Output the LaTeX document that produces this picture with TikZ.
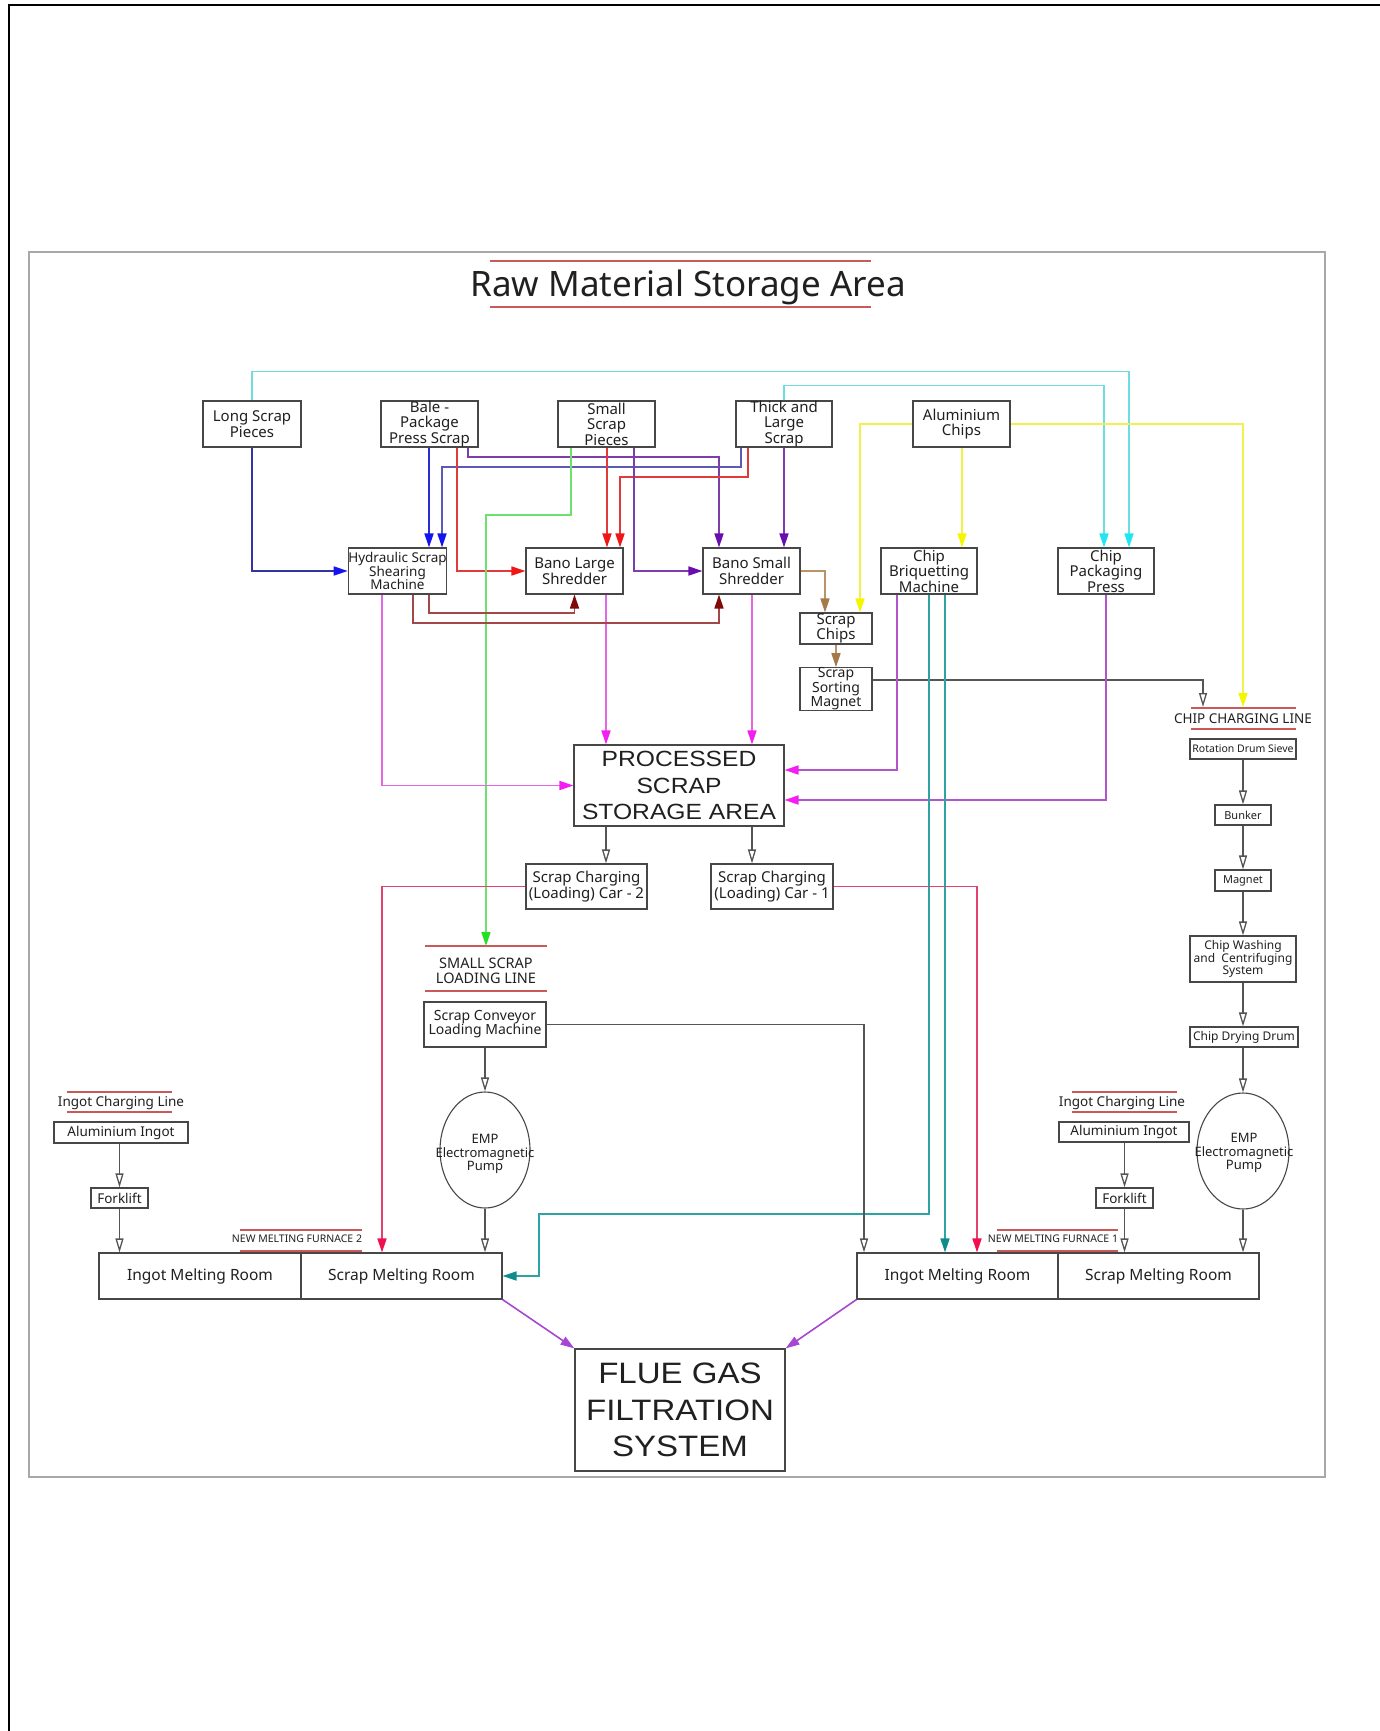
\documentclass[tikz,border=0pt]{standalone}
\usepackage{fontspec}
\setmainfont{Noto Sans}
\newfontfamily\pssf[FakeStretch=1.12]{Liberation Sans}
\usetikzlibrary{arrows.meta,shapes.geometric}
\definecolor{boxc}{HTML}{474747}
\definecolor{txt}{HTML}{202020}
\definecolor{frameg}{HTML}{A8A8A8}
\definecolor{hdrred}{HTML}{C85A5A}
\definecolor{gline}{HTML}{555555}
\definecolor{cyanL}{HTML}{6FDDE0}
\definecolor{cyanT}{HTML}{1EE6F2}
\definecolor{navyL}{HTML}{3434A0}
\definecolor{blueL}{HTML}{2B2BD6}
\definecolor{blueT}{HTML}{1414EE}
\definecolor{slateL}{HTML}{5B5BB5}
\definecolor{redL}{HTML}{E03A3A}
\definecolor{redT}{HTML}{F01616}
\definecolor{purpL}{HTML}{7D3DAA}
\definecolor{purpT}{HTML}{6A0DAD}
\definecolor{greenL}{HTML}{6EE06E}
\definecolor{greenT}{HTML}{22E022}
\definecolor{yelL}{HTML}{F2F04A}
\definecolor{yelT}{HTML}{F5F500}
\definecolor{brownL}{HTML}{BA9466}
\definecolor{brownT}{HTML}{A57A4A}
\definecolor{magL}{HTML}{E266E6}
\definecolor{magT}{HTML}{F21EF2}
\definecolor{violL}{HTML}{B454CC}
\definecolor{marL}{HTML}{A34848}
\definecolor{marT}{HTML}{7E0A0A}
\definecolor{tealL}{HTML}{2FA3A3}
\definecolor{tealT}{HTML}{0E8C8C}
\definecolor{crimL}{HTML}{E2426E}
\definecolor{crimT}{HTML}{F0104E}
\definecolor{flueL}{HTML}{A646D2}
\newcommand\fsz[2]{\fontsize{#1}{#2}\selectfont}
\begin{document}
\begin{tikzpicture}[x=1pt,y=-1pt,
  box/.style={draw=boxc,line width=1.1pt,fill=white,inner sep=0pt,align=center,text=txt,font=\fsz{15}{15.5}},
  bx/.style 2 args={box,minimum width=#1pt,minimum height=#2pt},
  ell/.style 2 args={draw=boxc,line width=1.1pt,fill=white,ellipse,inner sep=0pt,minimum width=#1pt,minimum height=#2pt},
  hdrtxt/.style={text=txt,inner sep=0pt,align=center},
  hdr/.style={draw=hdrred,line width=1.6pt},
  ln/.style 2 args={draw=#1,line width=1.6pt,-{Triangle[length=14pt,width=9pt,color=#2]}},
  op/.style={draw=gline,line width=1.3pt,-{Triangle[open,length=14pt,width=8pt]}},
]
\useasboundingbox (0,0) rectangle (1380,1731);
\draw[black,line width=2pt] (9,1731) -- (9,5) -- (1380,5);
\draw[frameg,line width=2pt] (29,252) rectangle (1325,1477);

% title
\node[hdrtxt,anchor=base,font=\fsz{35}{38}] (title) at (688,296) {Raw Material Storage Area};
\draw[hdr] (490,261) -- (871,261);
\draw[hdr] (490,307) -- (871,307);

% top row
\node[bx={98}{46}] (lsp) at (252,424) {Long Scrap\\Pieces};
\node[bx={97}{46}] (bale) at (429.5,424) {Bale -\\Package\\Press Scrap};
\node[bx={97}{46}] (ssp) at (606.5,424) {Small\\Scrap\\Pieces};
\node[bx={96}{46}] (tls) at (784,424) {Thick and\\Large\\Scrap};
\node[bx={97}{46}] (ac) at (961.5,424) {Aluminium\\Chips};

% second row
\node[bx={97}{46},font=\fsz{13.5}{13.5}] (hyd) at (397.5,571) {Hydraulic Scrap\\Shearing\\Machine};
\node[bx={97}{46}] (bls) at (574.5,571) {Bano Large\\Shredder};
\node[bx={97}{46}] (bss) at (751.5,571) {Bano Small\\Shredder};
\node[bx={96}{46}] (cbm) at (929,571) {Chip\\Briquetting\\Machine};
\node[bx={96}{46}] (cpp) at (1106,571) {Chip\\Packaging\\Press};
\node[bx={72}{31},font=\fsz{15}{15.5}] (sch) at (836,628.5) {Scrap\\Chips};
\node[bx={72}{40},font=\fsz{14}{14.5}] (ssm) at (836,689) {Scrap\\Sorting\\Magnet};

% processed scrap
\node[bx={210}{81},font=\pssf\fsz{22}{26.7}] (psa) at (679,785.5) {PROCESSED\\SCRAP\\STORAGE AREA};
\node[bx={121}{45}] (car2) at (586.5,886.5) {Scrap Charging\\(Loading) Car - 2};
\node[bx={122}{45}] (car1) at (772,886.5) {Scrap Charging\\(Loading) Car - 1};

% chip charging line
\node[hdrtxt,anchor=base,font=\fsz{13.5}{15}] (cclabel) at (1243,723) {CHIP CHARGING LINE};
\draw[hdr] (1191,708) -- (1296,708);
\draw[hdr] (1191,729) -- (1296,729);
\coordinate (cctop) at (1243,707);
\node[bx={106}{20},font=\fsz{10.5}{11}] (rds) at (1243,749) {Rotation Drum Sieve};
\node[bx={56}{20},font=\fsz{11}{11}] (bunk) at (1243,815) {Bunker};
\node[bx={56}{21},font=\fsz{11}{11}] (mag) at (1243,880.5) {Magnet};
\node[bx={106}{46},font=\fsz{12}{12.5}] (wash) at (1243,959) {Chip Washing\\and\ \ Centrifuging\\System};
\node[bx={108}{20},font=\fsz{12}{12}] (dry) at (1244,1037) {Chip Drying Drum};
\node[ell={92}{116}] (emp2) at (1243,1151) {};
\node[hdrtxt,font=\fsz{13}{13.3}] (emp2t) at (1244,1153) {EMP\\Electromagnetic\\Pump};

% small scrap loading line
\node[hdrtxt,font=\fsz{14.5}{15}] (sslabel) at (486,971) {SMALL SCRAP\\LOADING LINE};
\draw[hdr] (425,946) -- (547,946);
\draw[hdr] (425,991) -- (547,991);
\coordinate (sstop) at (486,946);
\node[bx={122}{45},font=\fsz{14}{14}] (conv) at (485,1024.5) {Scrap Conveyor\\Loading Machine};
\node[ell={90}{116}] (emp1) at (485,1150) {};
\node[hdrtxt,font=\fsz{13}{13.3}] (emp1t) at (485,1154) {EMP\\Electromagnetic\\Pump};

% left furnace
\node[hdrtxt,anchor=base,font=\fsz{13.5}{14}] (icl1) at (121,1106) {Ingot Charging Line};
\draw[hdr] (67,1092) -- (172,1092);
\draw[hdr] (67,1112) -- (172,1112);
\node[bx={134}{21},font=\fsz{13.5}{14}] (ai1) at (121,1132.5) {Aluminium Ingot};
\node[bx={57}{20},font=\fsz{13.5}{14}] (fl1) at (119.5,1198) {Forklift};
\node[bx={202}{46},font=\fsz{15.5}{16}] (im2) at (200,1276) {Ingot Melting Room};
\node[bx={201}{46},font=\fsz{15.5}{16}] (sm2) at (401.5,1276) {Scrap Melting Room};
\node[hdrtxt,anchor=base,font=\fsz{10.5}{11}] (nmf2) at (297,1242) {NEW MELTING FURNACE 2};
\draw[hdr] (240,1230) -- (362,1230);
\draw[hdr] (240,1251) -- (362,1251);

% right furnace
\node[hdrtxt,anchor=base,font=\fsz{13.5}{14}] (icl2) at (1122,1106) {Ingot Charging Line};
\draw[hdr] (1072,1092) -- (1177,1092);
\draw[hdr] (1072,1112) -- (1177,1112);
\node[bx={130}{20},font=\fsz{13.5}{14}] (ai2) at (1124,1132) {Aluminium Ingot};
\node[bx={57}{20},font=\fsz{13.5}{14}] (fl2) at (1124.5,1198) {Forklift};
\node[bx={201}{46},font=\fsz{15.5}{16}] (im1) at (957.5,1276) {Ingot Melting Room};
\node[bx={201}{46},font=\fsz{15.5}{16}] (sm1) at (1158.5,1276) {Scrap Melting Room};
\node[hdrtxt,anchor=base,font=\fsz{10.5}{11}] (nmf1) at (1053,1242) {NEW MELTING FURNACE 1};
\draw[hdr] (997,1230) -- (1118,1230);
\draw[hdr] (997,1251) -- (1118,1251);

% flue gas
\node[bx={210}{122},font=\pssf\fsz{29.5}{36.7}] (flue) at (680,1410) {FLUE GAS\\FILTRATION\\SYSTEM};

% ---- connectors ----
\draw[ln={cyanL}{cyanT}] (lsp.north) -- ++(0,-29) -| (cpp.north -| 1129,0);
\draw[ln={cyanL}{cyanT}] (tls.north) -- ++(0,-15) -| (cpp.north -| 1104,0);
\draw[ln={navyL}{blueT}] (lsp.south) |- (hyd.west);
\draw[ln={blueL}{blueT}] (bale.south -| 429,0) -- (hyd.north -| 429,0);
\draw[ln={slateL}{blueT}] (tls.south -| 741,0) |- (442,467) -- (hyd.north -| 442,0);
\draw[ln={redL}{redT}] (bale.south -| 457,0) |- (bls.west);
\draw[ln={purpL}{purpT}] (bale.south -| 468,0) |- (719,457) -- (bss.north -| 719,0);
\draw[ln={redL}{redT}] (ssp.south -| 607,0) -- (bls.north -| 607,0);
\draw[ln={redL}{redT}] (tls.south -| 748,0) |- (620,477) -- (bls.north -| 620,0);
\draw[ln={greenL}{greenT}] (ssp.south -| 571,0) |- (486,515) -- (sstop);
\draw[ln={purpL}{purpT}] (ssp.south -| 634,0) |- (bss.west);
\draw[ln={purpL}{purpT}] (tls.south) -- (bss.north -| tls.south);
\draw[ln={yelL}{yelT}] (ac.west) -| (sch.north -| 860,0);
\draw[ln={yelL}{yelT}] (ac.south -| 962,0) -- (cbm.north -| 962,0);
\draw[ln={yelL}{yelT}] (ac.east) -| (cctop);
\draw[ln={brownL}{brownT}] (bss.east) -| (sch.north -| 825,0);
\draw[ln={brownL}{brownT}] (sch.south) -- (ssm.north);
\draw[op] (ssm.east |- 0,680) -| (cctop -| 1203,0);

\draw[ln={magL}{magT}] (hyd.south -| 382,0) |- (psa.west);
\draw[ln={magL}{magT}] (bls.south -| 606,0) -- (psa.north -| 606,0);
\draw[ln={magL}{magT}] (bss.south -| 752,0) -- (psa.north -| 752,0);
\draw[ln={violL}{magT}] (cbm.south -| 897,0) |- (psa.east |- 0,770);
\draw[ln={violL}{magT}] (cpp.south) |- (psa.east |- 0,800);
\draw[ln={marL}{marT}] (hyd.south -| 429,0) |- (bls.south |- 0,613) -- (bls.south);
\draw[ln={marL}{marT}] (hyd.south -| 413,0) |- (719,623) -- (bss.south -| 719,0);
\draw[ln={tealL}{tealT}] (cbm.south -| 929,0) |- (539,1214) |- (sm2.east);
\draw[ln={tealL}{tealT}] (cbm.south -| 945,0) -- (im1.north -| 945,0);

\draw[op] (psa.south -| 606,0) -- (car2.north -| 606,0);
\draw[op] (psa.south -| 752,0) -- (car1.north -| 752,0);
\draw[ln={crimL}{crimT}] (car2.west) -| (sm2.north -| 382,0);
\draw[ln={crimL}{crimT}] (car1.east) -| (im1.north -| 977,0);
\draw[op] (conv.east) -| (im1.north -| 864,0);
\draw[op] (conv.south) -- (emp1.north);
\draw[op] (emp1.south) -- (sm2.north -| emp1.south);
\draw[op] (fl1.north |- ai1.south) -- (fl1.north);
\draw[op] (fl1.south) -- (im2.north -| fl1.south);
\draw[op] (fl2.north |- ai2.south) -- (fl2.north);
\draw[op] (fl2.south) -- (sm1.north -| fl2.south);
\draw[op] (rds.south) -- (bunk.north);
\draw[op] (bunk.south) -- (mag.north);
\draw[op] (mag.south) -- (wash.north);
\draw[op] (wash.south) -- (dry.north -| wash.south);
\draw[op] (dry.south -| emp2.north) -- (emp2.north);
\draw[op] (emp2.south) -- (sm1.north -| emp2.south);

\draw[ln={flueL}{flueL}] (sm2.south east) -- (flue.north west);
\draw[ln={flueL}{flueL}] (im1.south west) -- (flue.north east);
\end{tikzpicture}
\end{document}
